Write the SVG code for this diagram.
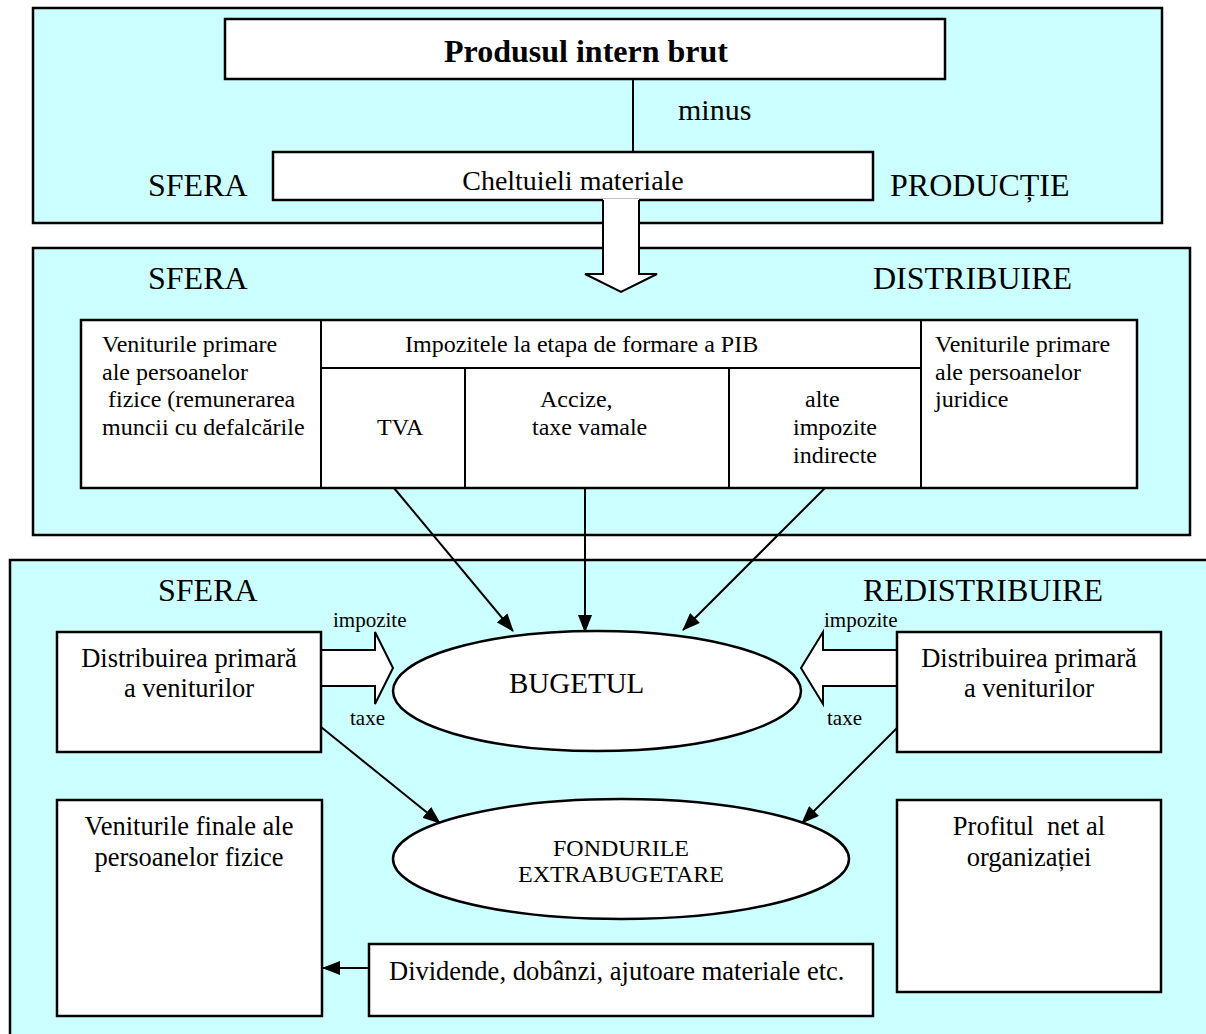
<svg xmlns="http://www.w3.org/2000/svg" width="1206" height="1034" viewBox="0 0 1206 1034">
<defs>
<style>
.panel{fill:#CCFFFF;stroke:#000;stroke-width:2.5}
.box{fill:#fff;stroke:#000;stroke-width:2.5}
.ln{fill:none;stroke:#000;stroke-width:2}
.hollow{fill:#fff;stroke:#000;stroke-width:2;stroke-linejoin:miter}
text{font-family:"Liberation Serif","Times New Roman",serif;fill:#000}
.big{font-size:32px}
.mid{font-size:28px}
.t26{font-size:26.5px}
.t24{font-size:24px}
.t21{font-size:21px}
.c{text-anchor:middle}
</style>
<marker id="ah" viewBox="0 0 18 14" markerWidth="18" markerHeight="14" refX="17" refY="7" orient="auto" markerUnits="userSpaceOnUse">
<path d="M0,0 L18,7 L0,14 z" fill="#000"/>
</marker>
</defs>

<g id="panels">
<rect id="sfera-productie" class="panel" x="33" y="8" width="1129" height="215"/>
<rect id="sfera-distribuire" class="panel" x="33" y="248" width="1157" height="287"/>
<rect id="sfera-redistribuire" class="panel" x="10" y="560" width="1210" height="490"/>
</g>

<g id="panel-labels">
<text class="big" x="148" y="196">SFERA</text>
<text class="big" x="890" y="196">PRODUCȚIE</text>
<text class="big" x="148" y="289">SFERA</text>
<text class="big" x="873" y="289">DISTRIBUIRE</text>
<text class="big" x="158" y="601">SFERA</text>
<text class="big" x="863" y="601">REDISTRIBUIRE</text>
</g>

<g id="connectors">
<line class="ln" x1="633" y1="79" x2="633" y2="152"/>
<text x="678" y="120" font-size="30">minus</text>
<line class="ln" x1="394" y1="488" x2="513" y2="631" marker-end="url(#ah)"/>
<line class="ln" x1="585" y1="488" x2="585" y2="632" marker-end="url(#ah)"/>
<line class="ln" x1="825" y1="488" x2="683" y2="630" marker-end="url(#ah)"/>
<line class="ln" x1="321" y1="727" x2="440" y2="823" marker-end="url(#ah)"/>
<line class="ln" x1="897" y1="728" x2="802" y2="823" marker-end="url(#ah)"/>
<line class="ln" x1="369" y1="968" x2="323" y2="968" marker-end="url(#ah)"/>
<polygon class="hollow" points="321,650 375,650 375,632 393,668 375,704 375,686 321,686"/>
<polygon class="hollow" points="897,650 823,650 823,632 801,668 823,704 823,686 897,686"/>
<text class="t21" x="333" y="627">impozite</text>
<text class="t21" x="350" y="725">taxe</text>
<text class="t21" x="824" y="627">impozite</text>
<text class="t21" x="827" y="725">taxe</text>
</g>

<g id="pib">
<rect class="box" x="225" y="19" width="720" height="60"/>
<text class="big c" x="586" y="62" font-weight="bold">Produsul intern brut</text>
</g>

<g id="cheltuieli">
<rect class="box" x="273" y="152" width="600" height="48"/>
<text class="mid c" x="573" y="190">Cheltuieli materiale</text>
</g>

<g id="flow-arrow">
<polygon fill="#fff" points="603,199 639,199 639,274 657,274 621,292 585,274 603,274"/>
<polyline class="ln" points="603,200 603,274 585,274 621,292 657,274 639,274 639,200"/>
</g>

<g id="tabel-distribuire">
<rect class="box" x="81" y="320" width="1056" height="168"/>
<line class="ln" x1="321" y1="320" x2="321" y2="488"/>
<line class="ln" x1="921" y1="320" x2="921" y2="488"/>
<line class="ln" x1="321" y1="368" x2="921" y2="368"/>
<line class="ln" x1="465" y1="368" x2="465" y2="488"/>
<line class="ln" x1="729" y1="368" x2="729" y2="488"/>
<g class="t24">
<text x="102" y="352">Veniturile primare</text>
<text x="102" y="380">ale persoanelor</text>
<text x="108" y="407">fizice (remunerarea</text>
<text x="102" y="435">muncii cu defalcările</text>
<text x="405" y="352">Impozitele la etapa de formare a PIB</text>
<text x="377" y="435">TVA</text>
<text x="540" y="407">Accize,</text>
<text x="532" y="435">taxe vamale</text>
<text x="805" y="407">alte</text>
<text x="793" y="435">impozite</text>
<text x="793" y="463">indirecte</text>
<text x="935" y="352">Veniturile primare</text>
<text x="935" y="380">ale persoanelor</text>
<text x="935" y="407">juridice</text>
</g>
</g>

<g id="distribuirea-stanga">
<rect class="box" x="57" y="632" width="264" height="120"/>
<text class="t26 c" x="189" y="667">Distribuirea primară</text>
<text class="t26 c" x="189" y="697">a veniturilor</text>
</g>

<g id="distribuirea-dreapta">
<rect class="box" x="897" y="632" width="264" height="120"/>
<text class="t26 c" x="1029" y="667">Distribuirea primară</text>
<text class="t26 c" x="1029" y="697">a veniturilor</text>
</g>

<g id="bugetul">
<ellipse class="box" cx="597" cy="691" rx="204" ry="60"/>
<text x="509" y="693" font-size="29">BUGETUL</text>
</g>

<g id="fondurile">
<ellipse class="box" cx="621" cy="859" rx="228" ry="60"/>
<text class="t24 c" x="621" y="856">FONDURILE</text>
<text class="t24 c" x="621" y="882">EXTRABUGETARE</text>
</g>

<g id="veniturile-finale">
<rect class="box" x="57" y="800" width="265" height="216"/>
<text class="t26 c" x="189" y="835">Veniturile finale ale</text>
<text class="t26 c" x="189" y="866">persoanelor fizice</text>
</g>

<g id="profitul">
<rect class="box" x="897" y="800" width="264" height="192"/>
<text class="t26 c" x="1029" y="835" style="white-space:pre">Profitul  net al</text>
<text class="t26 c" x="1029" y="866">organizației</text>
</g>

<g id="dividende">
<rect class="box" x="369" y="944" width="504" height="72"/>
<text class="t26" x="389" y="980">Dividende, dobânzi, ajutoare materiale etc.</text>
</g>
</svg>
